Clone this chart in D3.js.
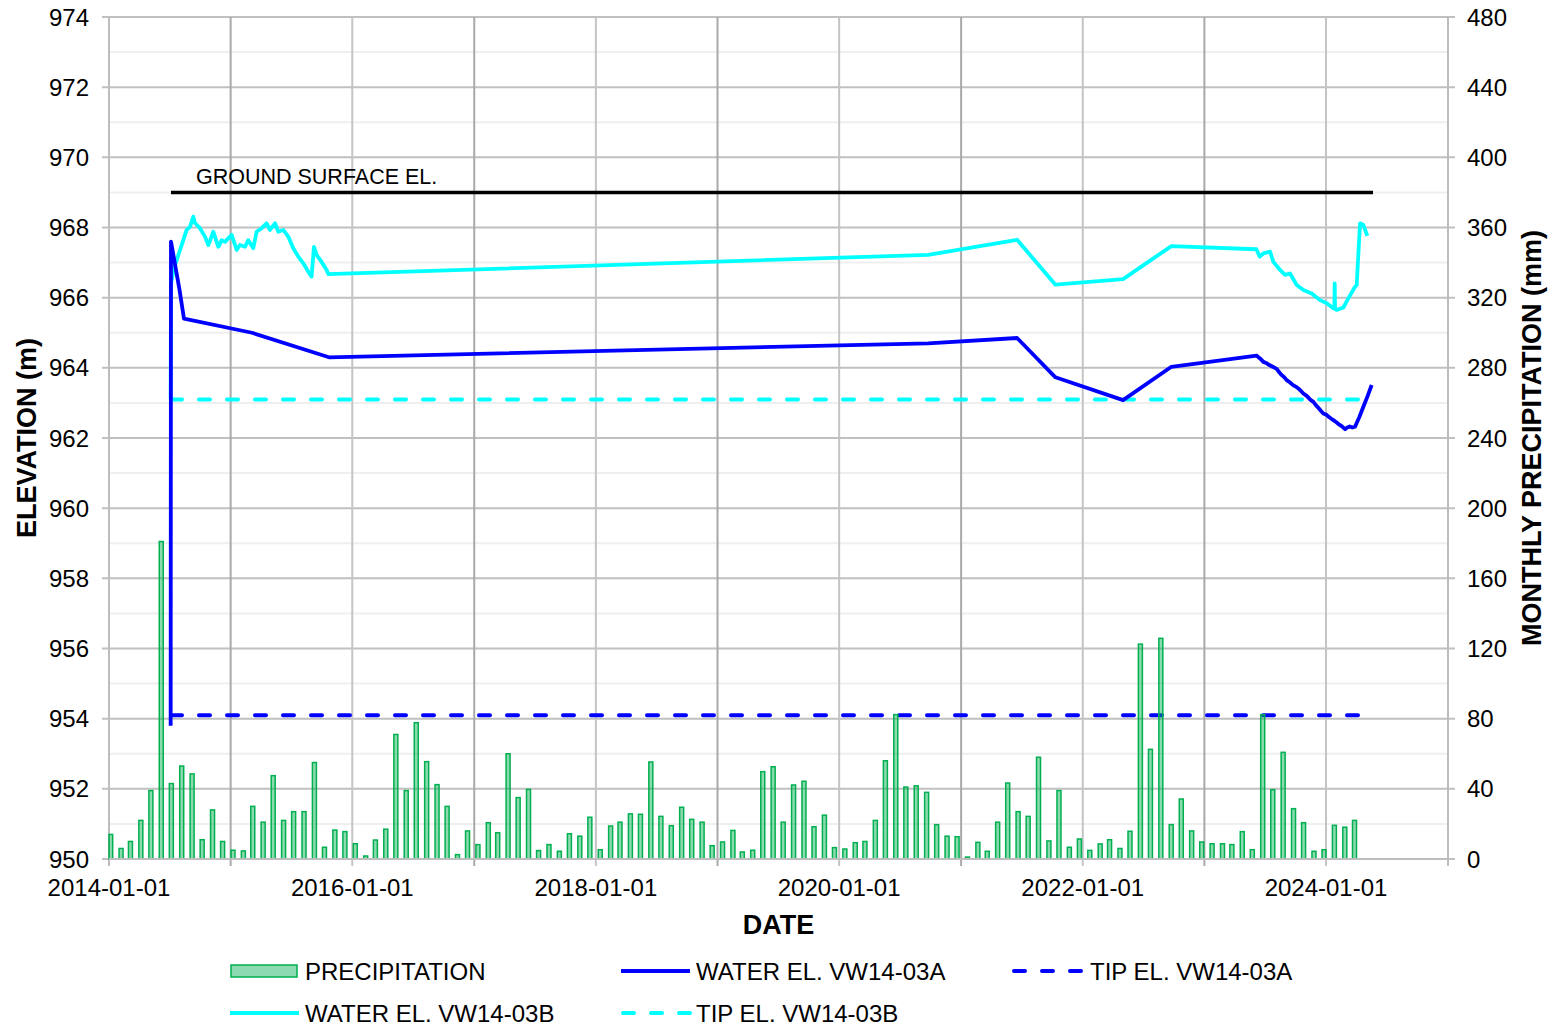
<!DOCTYPE html>
<html><head><meta charset="utf-8">
<script src="https://cdn.jsdelivr.net/npm/d3@7"></script>
<style>body{margin:0;background:#fff}svg{display:block}text{font-family:"Liberation Sans",Arial,sans-serif;fill:#000}</style>
</head><body><svg id="c" width="1551" height="1028"></svg>
<script>
// ---------------- DATA ----------------
const precipStartMonth = "2014-01";
const precipMm = [
  14, 6, 10, 22, 39, 181, 43, 53, 48.5, 11, 28, 10,
  5, 4.6, 30, 21, 47.5, 22, 27, 27, 55, 6.7, 16.5, 15.6,
  8.7, 1.7, 10.8, 17, 71, 39, 77.7, 55.5, 42.4, 30, 2.5, 16,
  8.2, 20.7, 15, 60, 35, 39.7, 4.8, 8.2, 4.4, 14.4, 13, 23.8,
  5.3, 18.8, 21, 25.7, 25.5, 55.3, 24.3, 19, 29.5, 22.6, 21, 7.6,
  9.7, 16.3, 4, 5, 49.8, 52.6, 21, 42.2, 44.3, 18.4, 25, 6.5,
  5.7, 9.3, 10, 22, 56, 82.3, 41, 41.7, 38, 19.6, 13, 12.7,
  1.1, 9.5, 4.4, 21, 43.3, 27, 24.3, 58, 10.3, 39, 6.7, 11.4,
  4.9, 8.6, 11, 6, 15.8, 122.5, 62.5, 125.8, 19.6, 34.2, 16, 9.7,
  8.7, 8.7, 8.2, 15.6, 5.3, 82.3, 39.5, 60.8, 28.7, 20.7, 4.4, 5.3,
  19.2, 18.1, 22
];

const waterA = [
  ["2014-07-05",953.8],["2014-07-06",967.6],["2014-08-01",966.2],["2014-08-14",965.4],
  ["2015-03-06",965.0],["2015-10-23",964.3],["2020-09-24",964.7],["2021-06-18",964.85],
  ["2021-10-11",963.73],["2022-05-02",963.08],["2022-09-24",964.03],["2023-06-07",964.35],
  ["2023-06-12",964.3],["2023-06-17",964.27],["2023-06-22",964.22],["2023-06-27",964.17],
  ["2023-07-05",964.14],["2023-07-15",964.08],["2023-07-25",964.03],["2023-08-06",963.97],
  ["2023-08-13",963.88],["2023-08-20",963.8],["2023-08-28",963.74],["2023-09-05",963.65],
  ["2023-09-15",963.58],["2023-09-25",963.5],["2023-10-05",963.45],["2023-10-15",963.37],
  ["2023-10-25",963.27],["2023-11-04",963.2],["2023-11-14",963.1],["2023-11-24",963.03],
  ["2023-12-02",962.93],["2023-12-10",962.85],["2023-12-17",962.77],["2023-12-24",962.7],
  ["2024-01-02",962.66],["2024-01-10",962.6],["2024-01-17",962.55],["2024-01-23",962.51],
  ["2024-02-01",962.45],["2024-02-10",962.38],["2024-02-18",962.33],["2024-02-27",962.25],
  ["2024-03-05",962.3],["2024-03-12",962.33],["2024-03-20",962.3],["2024-03-28",962.32],
  ["2024-04-10",962.6],["2024-04-22",962.89],["2024-05-05",963.2],["2024-05-17",963.51]
];

const waterB = [
  ["2014-07-05",963.1],["2014-07-06",966.4],["2014-07-14",966.8],["2014-07-23",967.07],
  ["2014-08-12",967.64],["2014-08-22",967.93],["2014-09-01",968.02],["2014-09-11",968.31],
  ["2014-09-16",968.13],["2014-10-01",967.98],["2014-10-16",967.74],["2014-10-26",967.5],
  ["2014-11-10",967.88],["2014-11-25",967.45],["2014-12-05",967.64],["2014-12-15",967.59],
  ["2014-12-25",967.69],["2015-01-04",967.79],["2015-01-19",967.36],["2015-01-29",967.5],
  ["2015-02-13",967.45],["2015-02-23",967.64],["2015-03-10",967.41],["2015-03-20",967.88],
  ["2015-04-04",967.98],["2015-04-19",968.12],["2015-04-29",967.93],["2015-05-14",968.12],
  ["2015-05-24",967.88],["2015-06-08",967.93],["2015-06-23",967.74],["2015-07-08",967.41],
  ["2015-07-23",967.17],["2015-08-07",966.98],["2015-08-22",966.74],["2015-09-01",966.6],
  ["2015-09-08",967.45],["2015-09-16",967.22],["2015-10-01",967.02],["2015-10-16",966.79],
  ["2015-10-21",966.67],["2020-09-24",967.22],["2021-06-18",967.65],["2021-10-11",966.37],
  ["2022-05-02",966.53],["2022-09-24",967.47],["2023-06-06",967.38],["2023-06-16",967.17],
  ["2023-06-27",967.26],["2023-07-17",967.31],["2023-07-27",967.02],["2023-08-16",966.79],
  ["2023-08-31",966.65],["2023-09-15",966.69],["2023-10-05",966.36],["2023-10-25",966.22],
  ["2023-11-19",966.12],["2023-12-14",965.93],["2024-01-03",965.84],["2024-01-23",965.7],
  ["2024-01-26",965.7],["2024-01-27",966.41],["2024-01-28",965.68],["2024-02-02",965.65],
  ["2024-02-22",965.72],["2024-03-08",965.98],["2024-03-28",966.31],["2024-04-02",966.36],
  ["2024-04-12",968.12],["2024-04-22",968.07],["2024-05-04",967.76]
];

const groundEl = 969.0;
const groundDates = ["2014-07-06","2024-05-21"];
const tipElA = 954.1;
const tipElB = 963.1;
const tipDates = ["2014-07-06","2024-04-24"];

const elevTicks = [950,952,954,956,958,960,962,964,966,968,970,972,974];
const precipTicks = [0,40,80,120,160,200,240,280,320,360,400,440,480];
const dateTickLabels = ["2014-01-01","2016-01-01","2018-01-01","2020-01-01","2022-01-01","2024-01-01"];

// ---------------- CHART ----------------
const svg = d3.select("#c");
const L = 109, R = 1448, T = 17, B = 859;
const parse = d3.timeParse("%Y-%m-%d");

const x = d3.scaleTime().domain([parse("2014-01-01"), parse("2025-01-01")]).range([L, R]);
// hidden secondary horizontal axis used by the precipitation columns
const xBar = d3.scaleTime().domain([parse("2013-12-27"), parse("2024-12-05")]).range([L, R]);
const yL = d3.scaleLinear().domain([950, 974]).range([B, T]);
const yR = d3.scaleLinear().domain([0, 480]).range([B, T]);

const g = svg.append("g");

// minor horizontal grid
g.selectAll(".hmin").data(d3.range(951, 974, 2)).join("line")
  .attr("x1", L).attr("x2", R).attr("y1", d => yL(d)).attr("y2", d => yL(d))
  .attr("stroke", "#efefef").attr("stroke-width", 2);
// major horizontal grid
g.selectAll(".hmaj").data(elevTicks).join("line")
  .attr("x1", L - 7).attr("x2", R + 7).attr("y1", d => yL(d)).attr("y2", d => yL(d))
  .attr("stroke", "#c0c0c0").attr("stroke-width", 2);
// vertical grid (yearly)
const years = d3.timeYear.range(parse("2014-01-01"), parse("2025-01-02"));
g.selectAll(".vg").data(years).join("line")
  .attr("x1", d => x(d)).attr("x2", d => x(d))
  .attr("y1", T).attr("y2", B + 7)
  .attr("stroke", d => {
    const yr = d.getFullYear();
    if (yr === 2014 || yr === 2025) return "#bdbdbd";
    return yr % 2 ? "#a9a9a9" : "#c4c4c4";
  })
  .attr("stroke-width", 2);

// tip elevation lines
const lineDate = d3.line().x(d => x(parse(d[0]))).y(d => yL(d[1]));
g.append("path").datum(tipDates.map(d => [d, tipElA])).attr("d", lineDate)
  .attr("fill", "none").attr("stroke", "#0000ff").attr("stroke-width", 4)
  .attr("stroke-dasharray", "11,17").attr("stroke-linecap", "round");
g.append("path").datum(tipDates.map(d => [d, tipElB])).attr("d", lineDate)
  .attr("fill", "none").attr("stroke", "#00ffff").attr("stroke-width", 4)
  .attr("stroke-dasharray", "11,17").attr("stroke-linecap", "round");

// ground surface
g.append("path").datum(groundDates.map(d => [d, groundEl])).attr("d", lineDate)
  .attr("fill", "none").attr("stroke", "#000").attr("stroke-width", 3.5);
g.append("text").attr("x", x(parse("2014-09-19"))).attr("y", yL(groundEl) - 8)
  .attr("font-size", 21.5).text("GROUND SURFACE EL.");

// water lines
g.append("path").datum(waterB).attr("d", lineDate)
  .attr("fill", "none").attr("stroke", "#00ffff").attr("stroke-width", 3.8).attr("stroke-linejoin", "round");
g.append("path").datum(waterA).attr("d", lineDate)
  .attr("fill", "none").attr("stroke", "#0000ff").attr("stroke-width", 3.8).attr("stroke-linejoin", "round");

// precipitation bars
const months = d3.timeMonth.range(d3.timeParse("%Y-%m")(precipStartMonth), parse("2025-01-01")).slice(0, precipMm.length);
const bw = 4;
g.selectAll(".bar").data(precipMm).join("rect")
  .attr("x", (d, i) => Math.max(L, xBar(months[i]) - bw / 2))
  .attr("width", (d, i) => Math.min(bw, xBar(months[i]) + bw / 2 - L))
  .attr("y", d => yR(d)).attr("height", d => yR(0) - yR(d))
  .attr("fill", "rgba(0,176,80,0.45)").attr("stroke", "#00b050").attr("stroke-width", 1.5);

// axis line
g.append("line").attr("x1", L).attr("x2", R).attr("y1", B).attr("y2", B).attr("stroke", "#bdbdbd").attr("stroke-width", 2);

// tick labels
g.selectAll(".yl").data(elevTicks).join("text")
  .attr("x", 89).attr("y", d => yL(d)).attr("dy", "0.36em").attr("text-anchor", "end")
  .attr("font-size", 24).text(d => d);
g.selectAll(".yr").data(precipTicks).join("text")
  .attr("x", 1467).attr("y", d => yR(d)).attr("dy", "0.36em").attr("text-anchor", "start")
  .attr("font-size", 24).text(d => d);
g.selectAll(".xl").data(dateTickLabels).join("text")
  .attr("x", d => x(parse(d))).attr("y", 896).attr("text-anchor", "middle")
  .attr("font-size", 24).text(d => d);

// axis titles
g.append("text").attr("transform", `translate(36,${(T + B) / 2}) rotate(-90)`)
  .attr("text-anchor", "middle").attr("font-size", 27).attr("font-weight", "bold").text("ELEVATION (m)");
g.append("text").attr("transform", `translate(1541,${(T + B) / 2}) rotate(-90)`)
  .attr("text-anchor", "middle").attr("font-size", 27).attr("font-weight", "bold").text("MONTHLY PRECIPITATION (mm)");
g.append("text").attr("x", (L + R) / 2).attr("y", 934)
  .attr("text-anchor", "middle").attr("font-size", 27).attr("font-weight", "bold").text("DATE");

// legend
const legendItems = [
  {label: "PRECIPITATION", type: "bar", col: 0, row: 0},
  {label: "WATER EL. VW14-03A", type: "line", color: "#0000ff", dash: null, col: 1, row: 0},
  {label: "TIP EL. VW14-03A", type: "line", color: "#0000ff", dash: "11,17", col: 2, row: 0},
  {label: "WATER EL. VW14-03B", type: "line", color: "#00ffff", dash: null, col: 0, row: 1},
  {label: "TIP EL. VW14-03B", type: "line", color: "#00ffff", dash: "11,17", col: 1, row: 1}
];
const colX = [230, 621, 1012];
const rowY = [971, 1013];
const lg = svg.append("g");
legendItems.forEach(it => {
  const x0 = colX[it.col], y0 = rowY[it.row];
  if (it.type === "bar") {
    lg.append("rect").attr("x", x0 + 1).attr("y", y0 - 6).attr("width", 66).attr("height", 12)
      .attr("fill", "rgba(0,176,80,0.45)").attr("stroke", "#00b050").attr("stroke-width", 1.5);
  } else {
    const ln = lg.append("line").attr("x1", x0 + (it.dash ? 2 : 0)).attr("x2", x0 + 69)
      .attr("y1", y0).attr("y2", y0).attr("stroke", it.color).attr("stroke-width", 4);
    if (it.dash) ln.attr("stroke-dasharray", "11,17").attr("stroke-linecap", "round");
  }
  lg.append("text").attr("x", x0 + (it.col === 2 ? 78 : 75)).attr("y", y0).attr("dy", "0.36em")
    .attr("font-size", 24).text(it.label);
});
</script>
</body></html>
